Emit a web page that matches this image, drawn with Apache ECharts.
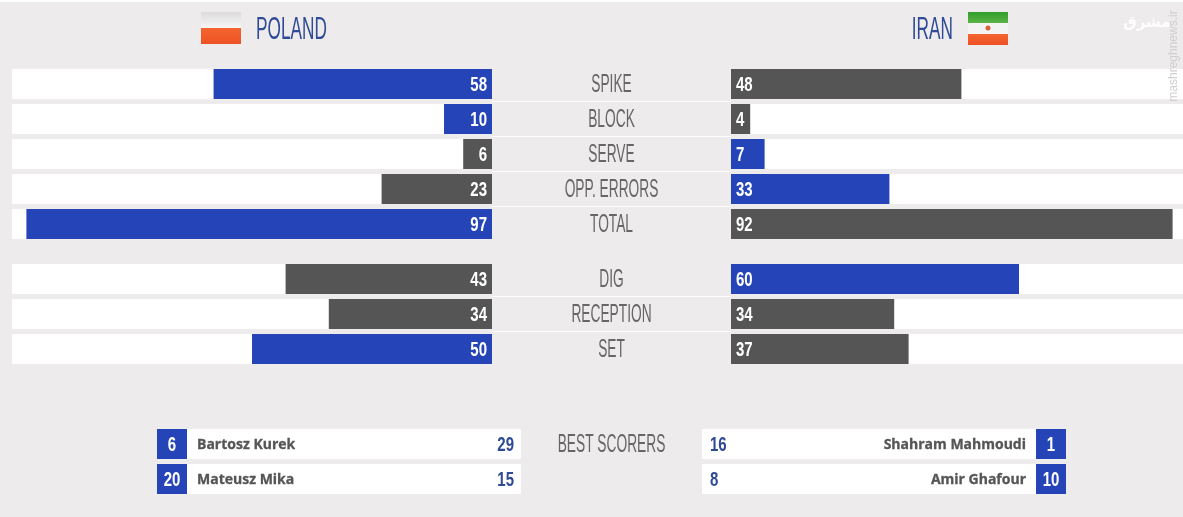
<!DOCTYPE html>
<html><head><meta charset="utf-8">
<style>html,body{margin:0;padding:0;background:#fff}#c{width:1183px;height:517px}</style>
<script src="https://cdn.jsdelivr.net/npm/echarts@6/dist/echarts.min.js"></script>
</head><body><div id="c"></div>
<script>
const teamLeft = 'POLAND', teamRight = 'IRAN';
const attackCats = ['SPIKE','BLOCK','SERVE','OPP. ERRORS','TOTAL'];
const attackPoland = [58,10,6,23,97];
const attackIran = [48,4,7,33,92];
const defenceCats = ['DIG','RECEPTION','SET'];
const defencePoland = [43,34,50];
const defenceIran = [60,34,37];
const polandShirts = [6,20], polandNames = ['Bartosz Kurek','Mateusz Mika'], polandPoints = [29,15];
const iranShirts = [1,10], iranNames = ['Shahram Mahmoudi','Amir Ghafour'], iranPoints = [16,8];
const scorerTitle = ['BEST SCORERS'];

const BLUE='#2444b8', GREY='#555555', NAVY='#2f4a96', LABEL='#666666', BG='#edebec';
const SANS='"Liberation Sans",sans-serif';
const chart = echarts.init(document.getElementById('c'), null, {renderer:'canvas'});

// narrow display text: a horizontally condensed text element
function squeezed(x,y,text,align,font,fill,sx){
  return {type:'text',x:x,y:y,scaleX:sx,style:{x:0,y:0,text:String(text),align:align,verticalAlign:'middle',font:font,fill:fill}};
}
const NUM='bold 20px '+SANS, NUM_SX=0.75, CAT='25px '+SANS, CAT_SX=0.55, TEAM='31px '+SANS, TEAM_SX=0.556;

const grids=[], xAxes=[], yAxes=[], series=[];
function addGrid(g,x,y){const i=grids.length;grids.push(Object.assign({outerBoundsMode:'none'},g));xAxes.push(Object.assign({gridIndex:i,show:false,type:'value',min:0},x));
  yAxes.push(Object.assign({gridIndex:i,type:'category',inverse:true,axisLine:{show:false},axisTick:{show:false},axisLabel:{show:false}},y));return i;}
function barSide(left,top,cats,vals,others,isLeft){
  const i=addGrid({left:left,top:top,width:480,height:35*cats.length},{max:100,inverse:isLeft},{data:cats});
  series.push({type:'bar',xAxisIndex:i,yAxisIndex:i,barWidth:30,silent:true,animation:false,
    showBackground:true,backgroundStyle:{color:'#ffffff',opacity:1},
    data:vals.map((v,k)=>({value:v,itemStyle:{color:v>others[k]?BLUE:GREY}}))});
  series.push({type:'custom',xAxisIndex:i,yAxisIndex:i,silent:true,animation:false,z:5,clip:false,
    data:vals.map((v,k)=>[0,k,v]),encode:{x:0,y:1},
    renderItem(p,api){
      const c=api.coord([0,api.value(1)]);
      return squeezed(isLeft?c[0]-5:c[0]+5,c[1]+1,vals[p.dataIndex],isLeft?'right':'left',NUM,'#fff',NUM_SX);
    }});
}
function centre(top,cats){
  const i=addGrid({left:492,top:top,width:239,height:35*cats.length},{max:1},{data:cats,
    splitLine:{show:true,showMinLine:false,showMaxLine:false,interval:0,lineStyle:{color:'#ffffff',width:1}}});
  series.push({type:'custom',xAxisIndex:i,yAxisIndex:i,silent:true,animation:false,
    data:cats.map((c,k)=>[0.5,k]),encode:{x:0,y:1},
    renderItem(p,api){
      const c=api.coord([api.value(0),api.value(1)]);
      return squeezed(c[0],c[1]+1.5,cats[p.dataIndex],'center',CAT,LABEL,CAT_SX);
    }});
}
barSide(12,66.5,attackCats,attackPoland,attackIran,true);
barSide(731,66.5,attackCats,attackIran,attackPoland,false);
centre(66.5,attackCats);
barSide(12,261.5,defenceCats,defencePoland,defenceIran,true);
barSide(731,261.5,defenceCats,defenceIran,defencePoland,false);
centre(261.5,defenceCats);
centre(426.5,scorerTitle);

function scorers(left,shirts,names,points,isLeft){
  const i=addGrid({left:left,top:426.5,width:364,height:70},{max:1},{data:names});
  series.push({type:'custom',xAxisIndex:i,yAxisIndex:i,silent:true,animation:false,
    data:names.map((n,k)=>[0,k]),encode:{x:0,y:1},
    renderItem(p,api){
      const k=p.dataIndex,cs=p.coordSys,cy=api.coord([0,k])[1];
      const bx=isLeft?cs.x:cs.x+cs.width-30;
      const nameFont='bold 14px "Open Sans",sans-serif';
      const nm=(x,align)=>({type:'text',style:{x:x,y:cy+1.5,text:names[k],align:align,verticalAlign:'middle',font:nameFont,fill:'#555',stroke:'#555',lineWidth:0.3}});
      return {type:'group',children:[
        {type:'rect',shape:{x:cs.x,y:cy-15,width:cs.width,height:30},style:{fill:'#fff'}},
        {type:'rect',shape:{x:bx,y:cy-15,width:30,height:30},style:{fill:BLUE}},
        squeezed(bx+15,cy+1,shirts[k],'center',NUM,'#fff',NUM_SX),
        isLeft?nm(cs.x+40,'left'):nm(bx-10,'right'),
        isLeft?squeezed(cs.x+cs.width-7,cy+1,points[k],'right',NUM,NAVY,NUM_SX):squeezed(cs.x+8,cy+1,points[k],'left',NUM,NAVY,NUM_SX)
      ]};
    }});
}
scorers(157,polandShirts,polandNames,polandPoints,true);
scorers(702,iranShirts,iranNames,iranPoints,false);

function grad(stops){return new echarts.graphic.LinearGradient(0,0,0,1,stops.map(s=>({offset:s[0],color:s[1]})));}
const graphic=[
  {type:'rect',z:0,shape:{x:0,y:0,width:1183,height:2},style:{fill:'#fff'}},
  {type:'rect',shape:{x:201,y:12,width:40,height:16},style:{fill:grad([[0,'#dcdcdc'],[1,'#f6f6f6']])}},
  {type:'rect',shape:{x:201,y:28,width:40,height:16},style:{fill:grad([[0,'#f4652f'],[1,'#ef5226']])}},
  squeezed(256,30.5,teamLeft,'left',TEAM,NAVY,TEAM_SX),
  squeezed(953,30.5,teamRight,'right',TEAM,NAVY,TEAM_SX),
  {type:'rect',shape:{x:968,y:12,width:40,height:11},style:{fill:grad([[0,'#2f9e2c'],[1,'#5cb346']])}},
  {type:'rect',shape:{x:968,y:23,width:40,height:11},style:{fill:'#f3f3f3'}},
  {type:'rect',shape:{x:968,y:34,width:40,height:11},style:{fill:grad([[0,'#f4652f'],[1,'#ee5026']])}},
  {type:'circle',shape:{cx:988,cy:28,r:2.5},style:{fill:'#d8603a'}},
  {type:'text',z:50,style:{x:1147,y:23,text:'مشرق',align:'center',verticalAlign:'middle',font:'bold 15px "DejaVu Sans",sans-serif',fill:'#ffffff',shadowColor:'rgba(0,0,0,0.35)',shadowBlur:2}},
  {type:'text',z:50,x:1174,y:56,rotation:Math.PI/2,style:{x:0,y:0,text:'mashreghnews.ir',align:'center',verticalAlign:'middle',font:'12px '+SANS,fill:'#cfcfcf'}}
];
chart.setOption({backgroundColor:BG,animation:false,grid:grids,xAxis:xAxes,yAxis:yAxes,series:series,graphic:graphic});
</script></body></html>
